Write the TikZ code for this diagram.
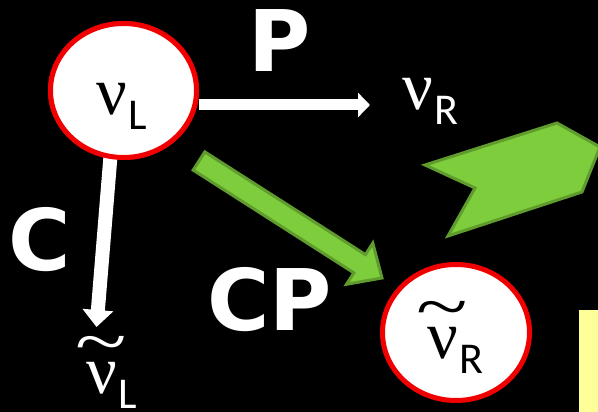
\documentclass[tikz,border=0pt]{standalone}
\usepackage{graphicx}
\usepackage{fontspec}
\setmainfont{Liberation Serif}
\newfontfamily\subfont{Carlito}
\newfontfamily\labfont{DejaVu Sans}
\usetikzlibrary{arrows.meta,shapes.geometric,calc}

\definecolor{ringred}{RGB}{240,0,0}
\definecolor{leaf}{RGB}{125,205,60}
\definecolor{leafedge}{RGB}{95,155,45}
\definecolor{paleyellow}{RGB}{255,255,153}

% Greek nu, optionally with a tilde over it, and a sans subscript
\newcommand\nuglyph{{\fontsize{68}{68}\selectfont ν}}
\newcommand\tildenu{{\fontsize{68}{68}\selectfont\ooalign{ν\cr\hidewidth\raisebox{29pt}{\scalebox{1.4}[1.0]{\textasciitilde}}\hidewidth\cr}}}
\newcommand\subtext[1]{{\subfont\fontsize{44}{44}\selectfont\hspace{2pt}\raisebox{-15pt}{#1}}}

\tikzset{
  ring/.style={ellipse, draw=ringred, line width=5pt, fill=white, inner sep=0pt},
  whitearrow/.style={draw=white, line width=#1},
  particle/.style={inner sep=0pt, anchor=base west},
  biglabel/.style={inner sep=0pt, anchor=base west, text=white,
    font=\labfont\bfseries\fontsize{85}{85}\selectfont},
  greenshape/.style={fill=leaf, draw=leafedge, line width=3pt, line join=miter}
}

\begin{document}
\begin{tikzpicture}[x=1pt, y=-1pt]
  \fill[black] (0,0) rectangle (598,412);
  \useasboundingbox (0,0) rectangle (598,412);

  % large chevron on the right
  \draw[greenshape] (425,165) -- (557,123) -- (600,147) -- (582,192)
        -- (448,236) -- (475,188) -- cycle;

  % pale yellow box in the lower right corner
  \fill[paleyellow] (579,310) rectangle (600,414);

  % states
  \node[ring, minimum width=146pt, minimum height=134pt] (cL) at (123.5,90.5) {};
  \node[ring, minimum width=147pt, minimum height=136pt] (cR) at (456,332.5) {};

  % parity: white arrow to the right
  \coordinate (pTip) at (370,105);
  \draw[whitearrow=11pt, -{Triangle[length=12pt,width=24pt]}]
       ([yshift=-14.5pt]cL.east) -- (pTip);

  % charge conjugation: white arrow downwards
  \coordinate (cTip) at (96.5,327);
  \draw[whitearrow=14pt, -{Triangle[length=17pt,width=30pt]}]
       ([xshift=-13pt,yshift=4pt]cL.south) -- (cTip);

  % redraw the left ring over the arrow starts
  \node[ring, minimum width=146pt, minimum height=134pt] at (cL) {};

  % CP: green block arrow
  \coordinate (cpTail) at (199,161);
  \coordinate (cpTip) at (382,278);
  \coordinate (cpNeck) at ($(cpTail)!190.7pt!(cpTip)$);
  \draw[greenshape]
    ($(cpTail)!10.8pt!90:(cpTip)$) --
    ($(cpNeck)!10.8pt!90:(cpTip)$) --
    ($(cpNeck)!24.4pt!90:(cpTip)$) --
    (cpTip) --
    ($(cpNeck)!24.4pt!-90:(cpTip)$) --
    ($(cpNeck)!10.8pt!-90:(cpTip)$) --
    ($(cpTail)!10.8pt!-90:(cpTip)$) -- cycle;

  % particle labels
  \node[particle] (nuL) at (96,115) {\nuglyph\subtext{L}};
  \node[particle, text=white] (nuR) at (402,110) {\nuglyph\subtext{R}};
  \node[particle, text=white] (tnuL) at (86,393) {\tildenu\subtext{L}};
  \node[particle] (tnuR) at (427,358) {\tildenu\subtext{R}};

  % transformation labels
  \node[biglabel] (lP) at (248,72) {P};
  \node[biglabel] (lC) at (8,270) {C};
  \node[biglabel] (lCP) at (207,330) {CP};
\end{tikzpicture}
\end{document}
